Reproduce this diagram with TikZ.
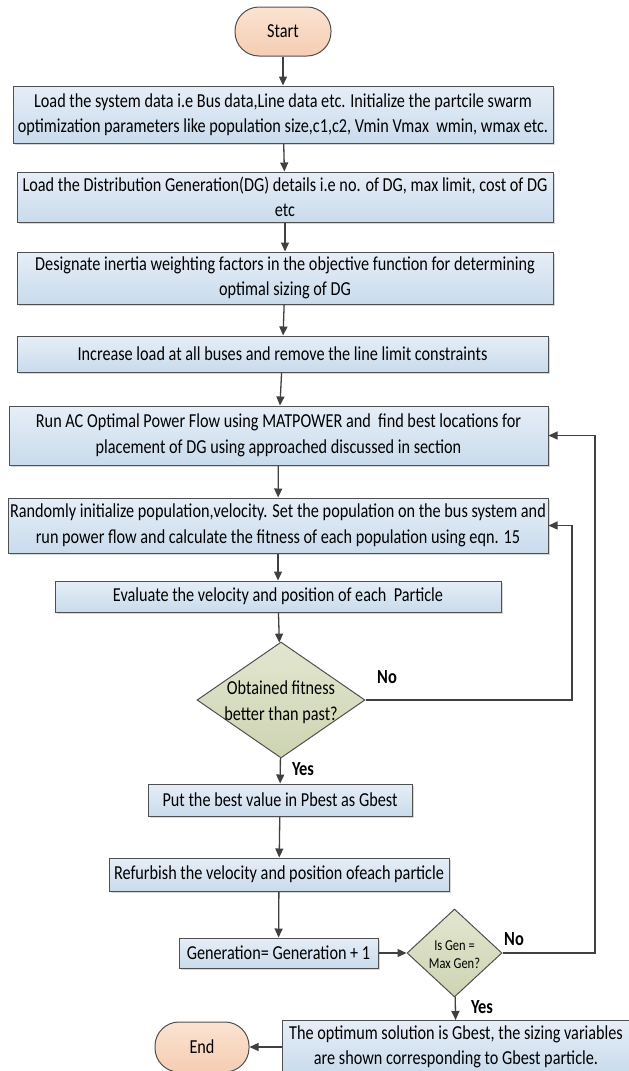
\documentclass[tikz,border=0pt]{standalone}
\usepackage{fontspec}
\setmainfont{Carlito}[FakeStretch=0.82]
\usetikzlibrary{arrows.meta,shapes.geometric,shadows}
\definecolor{boxtop}{HTML}{E6EEF7}
\definecolor{boxbot}{HTML}{C9DBEC}
\definecolor{termtop}{HTML}{FBE3D2}
\definecolor{termbot}{HTML}{F5CDB2}
\definecolor{dectop}{HTML}{E2E6CF}
\definecolor{decbot}{HTML}{CDD4B2}
\definecolor{edgegray}{HTML}{505050}
\definecolor{arrowgray}{HTML}{404040}

\begin{document}
\begin{tikzpicture}[x=0.5pt,y=-0.5pt,>={Triangle[length=4.5pt,width=4pt]},
  font=\fontsize{9.9}{12.75}\selectfont,
  flow/.style={->,draw=arrowgray,line width=0.65pt},
  procbox/.style={rectangle,draw=edgegray,line width=0.5pt,top color=boxtop,bottom color=boxbot,
    inner sep=0pt,align=center,drop shadow={shadow xshift=1pt,shadow yshift=-1pt,fill=black!30,opacity=0.5}},
  termbox/.style={rectangle,rounded corners=12pt,draw=edgegray,line width=0.5pt,top color=termtop,bottom color=termbot,inner sep=0pt},
  decision/.style={diamond,draw=edgegray,line width=0.5pt,top color=dectop,bottom color=decbot,inner sep=0pt},
  answer/.style={font=\fontsize{10}{11}\selectfont\bfseries}]
\useasboundingbox (0,0) rectangle (628,1071);
% terminals and process boxes
\node[termbox,minimum width=48pt,minimum height=24.5pt] (start) at (283,31.5) {Start};
\node[procbox,minimum width=270pt,minimum height=28.5pt] (b1) at (283,114.5)
  {Load the system data i.e Bus data,Line data etc. Initialize the partcile swarm\\optimization parameters like population size,c1,c2, Vmin Vmax\ \ wmin, wmax etc.};
\node[procbox,minimum width=268pt,minimum height=25pt] (b2) at (285,197)
  {Load the Distribution Generation(DG) details i.e no. of DG, max limit, cost of DG\\etc};
\node[procbox,minimum width=268pt,minimum height=26pt] (b3) at (285,278)
  {Designate inertia weighting factors in the objective function for determining\\optimal sizing of DG};
\node[procbox,minimum width=265.5pt,minimum height=18pt] (b4) at (282.5,354)
  {Increase load at all buses and remove the line limit constraints};
\node[procbox,minimum width=269.5pt,minimum height=29.5pt] (b5) at (278.5,435.5)
  {Run AC Optimal Power Flow using MATPOWER and\ \ find best locations for\\placement of DG using approached discussed in section};
\node[procbox,minimum width=270pt,minimum height=27.5pt] (b6) at (278,525.5)
  {Randomly initialize population,velocity. Set the population on the bus system and\\run power flow and calculate the fitness of each population using eqn. 15};
\node[procbox,minimum width=223pt,minimum height=15.5pt] (b7) at (278,596.5)
  {Evaluate the velocity and position of each\ \ Particle};
% first decision
\node[decision,minimum width=84pt,minimum height=58pt] (dia1) at (281,700) {};
\node[align=center] (dia1txt) at (281,702) {Obtained fitness\\better than past?};
\node[procbox,minimum width=132pt,minimum height=16pt] (b8) at (280,800)
  {Put the best value in Pbest as Gbest};
\node[procbox,minimum width=170pt,minimum height=16.5pt] (b9) at (279,874.5)
  {Refurbish the velocity and position ofeach particle};
\node[procbox,minimum width=99.5pt,minimum height=15pt] (b10) at (278.5,953)
  {Generation= Generation + 1};
% second decision
\node[decision,minimum width=47.5pt,minimum height=44pt] (dia2) at (454.5,953) {};
\node[align=center,font=\fontsize{7.6}{9}\selectfont] (dia2txt) at (454.5,955) {Is Gen =\\Max Gen?};
\node[procbox,minimum width=174pt,minimum height=26.5pt] (b11) at (456,1047)
  {The optimum solution is Gbest, the sizing variables\\are shown corresponding to Gbest particle.};
\node[termbox,minimum width=47pt,minimum height=25pt] (end) at (202,1047) {End};
% yes / no labels
\node[answer] (no1) at (387,677) {No};
\node[answer] (yes1) at (303,769) {Yes};
\node[answer] (no2) at (514,939) {No};
\node[answer] (yes2) at (482,1007) {Yes};
% main flow
\draw[flow] (start) -- (b1);
\draw[flow] (b1) -- (b2);
\draw[flow] (b2) -- (b3);
\draw[flow] (b3) -- (b4);
\draw[flow] (b4) -- (b5);
\draw[flow] (b5) -- (b6);
\draw[flow] (b6) -- (b7);
\draw[flow] (b7) -- (dia1);
\draw[flow] (dia1) -- (b8);
\draw[flow] (b8) -- (b9);
\draw[flow] (b9) -- (b10);
\draw[flow] (b10) -- (dia2);
\draw[flow] (dia2) -- (b11);
\draw[flow] (b11) -- (end);
% feedback loops
\coordinate (loopA) at (572,0);
\coordinate (loopB) at (595,0);
\draw[flow] (dia1.east) -| (loopA |- b6.east) -- (b6.east);
\draw[flow] (dia2.east) -| (loopB |- b5.east) -- (b5.east);
\end{tikzpicture}
\end{document}
